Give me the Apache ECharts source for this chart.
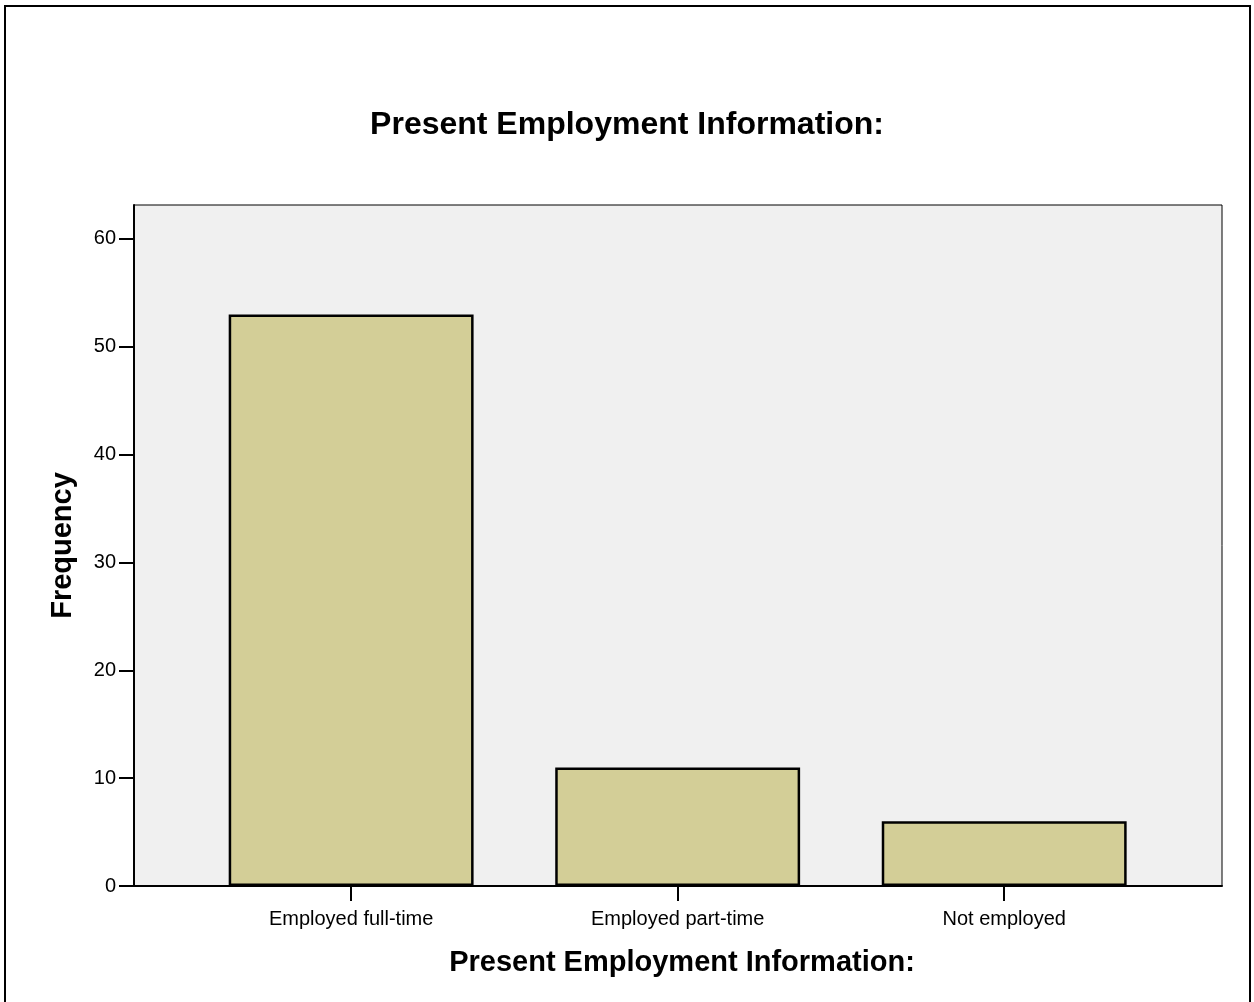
<!DOCTYPE html>
<html>
<head>
<meta charset="utf-8">
<script src="https://cdn.jsdelivr.net/npm/echarts@6/dist/echarts.min.js"></script>
<style>
html,body{margin:0;padding:0;background:#fff;}
#chart{width:1254px;height:1002px;}
</style>
</head>
<body>
<div id="chart"></div>
<script>
var categories = ['Employed full-time', 'Employed part-time', 'Not employed'];
var frequencies = [53, 11, 6];
var yTicks = [0, 10, 20, 30, 40, 50, 60];
var titleText = 'Present Employment Information:';
var xName = 'Present Employment Information:';
var yName = 'Frequency';

var positions = categories.map(function (c, i) { return i; });
var barData = frequencies.map(function (v, i) { return [positions[i], v]; });

var font = '"Liberation Sans", Arial, Helvetica, sans-serif';
var chart = echarts.init(document.getElementById('chart'), null, {renderer: 'canvas'});
chart.setOption({
  animation: false,
  backgroundColor: '#ffffff',
  graphic: [{
    type: 'rect',
    shape: {x: 5, y: 6, width: 1245, height: 1020},
    style: {fill: 'none', stroke: '#000', lineWidth: 2},
    silent: true
  }],
  title: {
    text: titleText,
    left: 'center',
    top: 109,
    padding: 0,
    textStyle: {fontFamily: font, fontSize: 32, fontWeight: 'bold', color: '#000'}
  },
  grid: {
    left: 134, right: 32, top: 205, bottom: 116,
    show: true,
    backgroundColor: '#f0f0f0',
    borderColor: '#000',
    borderWidth: 1,
    containLabel: false
  },
  xAxis: {
    type: 'value',
    min: -0.665,
    max: 2.667,
    name: xName,
    nameLocation: 'middle',
    nameGap: 62,
    nameTextStyle: {fontFamily: font, fontSize: 29, fontWeight: 'bold', color: '#000', padding: [0, 0, 0, 8]},
    axisLine: {show: true, onZero: false, lineStyle: {color: '#000', width: 2}},
    axisTick: {show: true, length: 15, lineStyle: {color: '#000', width: 2}, customValues: positions},
    axisLabel: {
      show: true,
      customValues: positions,
      margin: 23,
      fontFamily: font, fontSize: 20, color: '#000',
      formatter: function (v) { return categories[Math.round(v)] || ''; }
    },
    splitLine: {show: false}
  },
  yAxis: {
    type: 'value',
    min: 0,
    max: 63.15,
    name: yName,
    nameLocation: 'middle',
    nameGap: 57,
    nameRotate: 90,
    nameTextStyle: {fontFamily: font, fontSize: 29, fontWeight: 'bold', color: '#000'},
    axisLine: {show: true, onZero: false, lineStyle: {color: '#000', width: 2}},
    axisTick: {show: true, length: 15, lineStyle: {color: '#000', width: 2}, customValues: yTicks},
    axisLabel: {
      show: true,
      customValues: yTicks,
      margin: 18,
      fontFamily: font, fontSize: 20, color: '#000'
    },
    splitLine: {show: false}
  },
  series: [{
    type: 'bar',
    data: barData,
    barWidth: '75%',
    itemStyle: {color: '#d3ce97', borderColor: '#000', borderWidth: 2.5},
    silent: true
  }]
});
</script>
</body>
</html>
